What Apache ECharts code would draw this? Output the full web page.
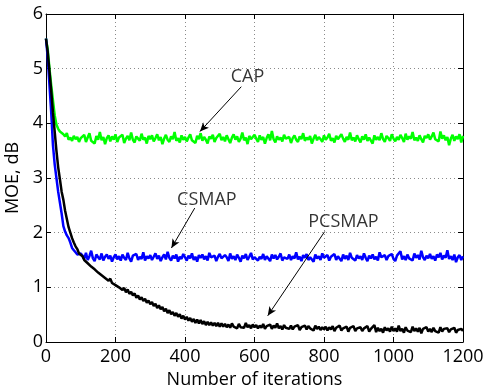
<!DOCTYPE html>
<html>
<head>
<meta charset="utf-8">
<script src="https://cdn.jsdelivr.net/npm/echarts@6/dist/echarts.min.js"></script>
<style>html,body{margin:0;padding:0;background:#fff}#c{width:488px;height:386px}</style>
</head>
<body>
<div id="c"></div>
<script>
// iterations 0..1200 sampled every 5
const iterations = [];
for (let i = 0; i <= 1200; i += 5) iterations.push(i);

const capValues = [
  5.55,5.35,5.0,4.7,4.42,4.15,3.98,3.9,3.85,3.88,3.8,3.76,3.82,3.7,3.74,3.68,3.77,3.71,3.75,3.66,3.73,
  3.7,3.79,3.66,3.74,3.82,3.68,3.71,3.63,3.77,3.7,3.84,3.69,3.75,3.62,3.73,3.78,3.67,3.76,3.7,3.8,
  3.66,3.74,3.71,3.79,3.64,3.72,3.77,3.69,3.83,3.7,3.65,3.76,3.72,3.68,3.81,3.7,3.74,3.63,3.77,3.71,
  3.78,3.67,3.73,3.8,3.69,3.75,3.62,3.72,3.79,3.7,3.66,3.76,3.71,3.84,3.68,3.73,3.65,3.78,3.7,3.75,
  3.67,3.74,3.8,3.69,3.72,3.64,3.77,3.71,3.82,3.68,3.75,3.7,3.63,3.76,3.72,3.79,3.66,3.73,3.7,3.81,
  3.69,3.75,3.67,3.78,3.71,3.64,3.74,3.8,3.7,3.76,3.66,3.72,3.83,3.69,3.74,3.62,3.77,3.71,3.68,3.79,
  3.72,3.66,3.78,3.7,3.75,3.63,3.73,3.8,3.69,3.86,3.71,3.65,3.76,3.7,3.74,3.67,3.79,3.72,3.69,3.75,
  3.64,3.73,3.78,3.7,3.66,3.76,3.71,3.82,3.68,3.74,3.7,3.77,3.63,3.72,3.79,3.69,3.75,3.71,3.66,3.78,
  3.7,3.74,3.81,3.68,3.73,3.65,3.77,3.71,3.69,3.8,3.72,3.66,3.75,3.7,3.83,3.69,3.74,3.67,3.78,3.71,
  3.65,3.76,3.7,3.8,3.68,3.74,3.72,3.63,3.78,3.7,3.75,3.69,3.82,3.71,3.66,3.77,3.73,3.68,3.8,3.72,
  3.67,3.75,3.7,3.79,3.73,3.66,3.81,3.7,3.76,3.72,3.84,3.69,3.74,3.68,3.78,3.71,3.65,3.77,3.73,3.8,
  3.7,3.76,3.83,3.71,3.74,3.67,3.85,3.72,3.78,3.69,3.75,3.6,3.72,3.79,3.68,3.76,3.71,3.8,3.65,3.77
];
const csmapValues = [
  5.55,5.2,4.7,4.2,3.6,3.25,3.0,2.75,2.55,2.35,2.12,2.02,1.95,1.9,1.82,1.72,1.68,1.64,1.6,1.58,1.62,
  1.58,1.52,1.63,1.5,1.57,1.67,1.53,1.48,1.6,1.55,1.51,1.62,1.49,1.56,1.6,1.52,1.58,1.47,1.55,1.6,
  1.51,1.57,1.49,1.6,1.54,1.5,1.63,1.53,1.47,1.58,1.55,1.61,1.5,1.56,1.52,1.64,1.49,1.57,1.53,1.59,
  1.5,1.56,1.62,1.52,1.58,1.48,1.55,1.6,1.51,1.65,1.54,1.49,1.58,1.53,1.6,1.47,1.56,1.52,1.61,1.55,
  1.49,1.58,1.53,1.62,1.5,1.56,1.47,1.59,1.54,1.6,1.51,1.57,1.49,1.63,1.55,1.52,1.58,1.48,1.56,1.61,
  1.53,1.5,1.59,1.55,1.48,1.62,1.52,1.57,1.5,1.6,1.54,1.47,1.58,1.53,1.61,1.5,1.56,1.63,1.51,1.55,
  1.58,1.49,1.56,1.52,1.61,1.5,1.57,1.54,1.48,1.6,1.53,1.59,1.51,1.56,1.62,1.49,1.55,1.58,1.52,1.6,
  1.5,1.57,1.53,1.64,1.51,1.56,1.48,1.59,1.54,1.61,1.5,1.55,1.58,1.47,1.6,1.53,1.57,1.5,1.62,1.54,
  1.52,1.59,1.49,1.56,1.53,1.61,1.5,1.57,1.55,1.48,1.6,1.52,1.58,1.5,1.63,1.54,1.56,1.49,1.59,1.53,
  1.57,1.5,1.62,1.54,1.48,1.58,1.53,1.6,1.51,1.56,1.49,1.64,1.55,1.52,1.59,1.5,1.57,1.54,1.61,1.52,
  1.48,1.58,1.55,1.66,1.51,1.57,1.5,1.6,1.53,1.56,1.49,1.62,1.54,1.59,1.51,1.67,1.55,1.5,1.58,1.53,
  1.61,1.52,1.57,1.49,1.6,1.55,1.63,1.51,1.58,1.54,1.68,1.52,1.57,1.5,1.6,1.46,1.55,1.59,1.5,1.57
];
const pcsmapValues = [
  5.55,5.3,4.95,4.6,4.2,3.85,3.5,3.2,2.98,2.75,2.6,2.4,2.25,2.1,2.0,1.9,1.82,1.75,1.7,1.62,1.6,
  1.57,1.5,1.52,1.44,1.47,1.38,1.41,1.33,1.36,1.27,1.3,1.22,1.25,1.17,1.2,1.12,1.16,1.08,1.11,1.04,
  1.07,1.0,1.03,0.95,0.99,0.91,0.96,0.88,0.92,0.85,0.89,0.81,0.85,0.78,0.82,0.75,0.79,0.72,0.76,0.69,
  0.73,0.66,0.7,0.62,0.67,0.6,0.64,0.56,0.61,0.53,0.58,0.51,0.55,0.48,0.53,0.46,0.51,0.43,0.48,0.41,
  0.46,0.39,0.44,0.37,0.42,0.35,0.41,0.34,0.4,0.33,0.38,0.31,0.37,0.31,0.36,0.3,0.35,0.29,0.35,0.28,
  0.34,0.28,0.33,0.27,0.32,0.26,0.34,0.28,0.31,0.25,0.33,0.27,0.3,0.26,0.35,0.27,0.31,0.25,0.32,0.27,
  0.31,0.25,0.3,0.26,0.33,0.24,0.29,0.27,0.32,0.24,0.3,0.26,0.34,0.25,0.29,0.23,0.31,0.26,0.28,0.24,
  0.3,0.23,0.28,0.25,0.31,0.22,0.27,0.24,0.3,0.23,0.29,0.25,0.27,0.21,0.3,0.24,0.28,0.22,0.27,0.23,
  0.28,0.21,0.27,0.23,0.29,0.2,0.26,0.23,0.3,0.21,0.25,0.22,0.28,0.19,0.26,0.23,0.29,0.2,0.25,0.22,
  0.27,0.2,0.25,0.22,0.29,0.19,0.24,0.21,0.31,0.18,0.26,0.2,0.24,0.17,0.27,0.21,0.25,0.19,0.28,0.2,
  0.25,0.19,0.3,0.2,0.24,0.17,0.27,0.21,0.23,0.18,0.28,0.2,0.25,0.19,0.26,0.16,0.24,0.21,0.27,0.19,
  0.24,0.18,0.26,0.2,0.23,0.17,0.27,0.19,0.24,0.21,0.25,0.18,0.23,0.2,0.26,0.17,0.22,0.19,0.24,0.2
];

const xTicks = [0,200,400,600,800,1000,1200];
const yTicks = [0,1,2,3,4,5,6];

// annotations in data coordinates: [labelX, labelY, text], arrow from -> to
const annotationLabels = [[580,4.85,'CAP'],[463,2.6,'CSMAP'],[856,2.2,'PCSMAP']];
const annotationArrows = [
  [[562,4.67],[443,3.85]],
  [[428,2.45],[361,1.72]],
  [[802,2.02],[638,0.48]]
];

const FONT = 'Open Sans';
const pair = vals => iterations.map((x,i) => [x, vals[i]]);

const chart = echarts.init(document.getElementById('c'), null, {renderer:'canvas'});
const gridLine = {show:true, lineStyle:{color:'#8a8a8a', type:[1,3], width:1}};
chart.setOption({
  animation:false,
  backgroundColor:'#fff',
  grid:{left:46, top:14, right:25, bottom:44, containLabel:false, outerBoundsMode:'none'},
  xAxis:[
    {type:'value', min:0, max:1200, interval:200, position:'bottom',
     name:'Number of iterations', nameLocation:'middle', nameGap:27,
     nameTextStyle:{fontFamily:FONT, fontSize:18, color:'#000'},
     axisLine:{show:true, onZero:false, lineStyle:{color:'#000', width:1}},
     axisTick:{show:true, inside:true, length:5, lineStyle:{color:'#000'}},
     axisLabel:{fontFamily:FONT, fontSize:18, color:'#000', margin:6,
       formatter:v => xTicks.includes(v) ? String(v) : ''},
     splitLine:gridLine},
    {type:'value', min:0, max:1200, interval:200, position:'top',
     axisLine:{show:true, onZero:false, lineStyle:{color:'#000', width:1}},
     axisTick:{show:true, inside:true, length:5, lineStyle:{color:'#000'}},
     axisLabel:{show:false}, splitLine:{show:false}}
  ],
  yAxis:[
    {type:'value', min:0, max:6, interval:1, position:'left',
     name:'MOE, dB', nameLocation:'middle', nameGap:24, nameRotate:90,
     nameTextStyle:{fontFamily:FONT, fontSize:18, color:'#000'},
     axisLine:{show:true, onZero:false, lineStyle:{color:'#000', width:1}},
     axisTick:{show:true, inside:true, length:5, lineStyle:{color:'#000'}},
     axisLabel:{fontFamily:FONT, fontSize:18, color:'#000', margin:3,
       formatter:v => yTicks.includes(v) ? String(v) : ''},
     splitLine:gridLine},
    {type:'value', min:0, max:6, interval:1, position:'right',
     axisLine:{show:true, onZero:false, lineStyle:{color:'#000', width:1}},
     axisTick:{show:true, inside:true, length:5, lineStyle:{color:'#000'}},
     axisLabel:{show:false}, splitLine:{show:false}}
  ],
  series:[
    {name:'CAP', type:'line', data:pair(capValues), showSymbol:false, symbol:'none',
     lineStyle:{color:'#00ff00', width:2.5}, z:2},
    {name:'CSMAP', type:'line', data:pair(csmapValues), showSymbol:false, symbol:'none',
     lineStyle:{color:'#0000ff', width:2.5}, z:3},
    {name:'PCSMAP', type:'line', data:pair(pcsmapValues), showSymbol:false, symbol:'none',
     lineStyle:{color:'#000000', width:2.5}, z:4,
     markLine:{silent:true, symbol:['none','arrow'], symbolSize:[6,9], animation:false,
       label:{show:false}, lineStyle:{color:'#000', width:1, type:'solid'},
       data:annotationArrows.map(a => [{coord:a[0]},{coord:a[1]}])}},
    {name:'labels', type:'scatter', symbolSize:0, z:5, silent:true,
     data:annotationLabels,
     label:{show:true, position:'inside', formatter:p => p.value[2],
       fontFamily:FONT, fontSize:18, color:'#000'}}
  ]
});
</script>
</body>
</html>
